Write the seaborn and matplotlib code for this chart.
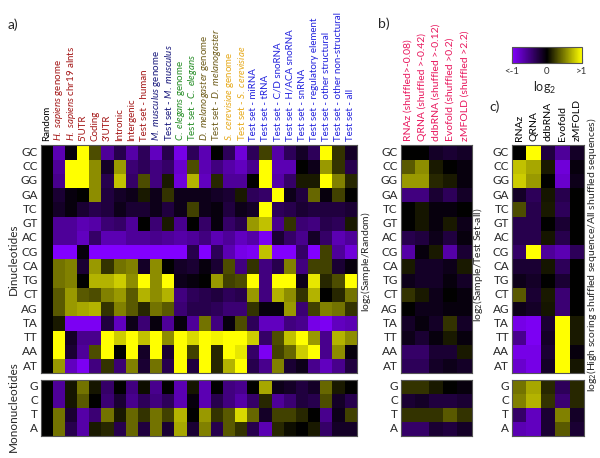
import matplotlib
matplotlib.use("Agg")
import numpy as np
import pandas as pd
import matplotlib.pyplot as plt
import seaborn as sns
from matplotlib.colors import LinearSegmentedColormap

sns.set_style("white")
plt.rcParams['font.family'] = ['Lato', 'DejaVu Sans']
plt.rcParams['mathtext.fontset'] = 'custom'
plt.rcParams['mathtext.rm'] = 'Lato'
plt.rcParams['mathtext.it'] = 'Lato:italic'

# ---- data ----
dinucs = ['GC', 'CC', 'GG', 'GA', 'TC', 'GT', 'AC', 'CG',
          'CA', 'TG', 'CT', 'AG', 'TA', 'TT', 'AA', 'AT']
monos = ['G', 'C', 'T', 'A']

samples = ['Random', r'$\mathit{H.\ sapiens}$ genome', r'$\mathit{H.\ sapiens}$ chr19 alnts',
           "5'UTR", 'Coding', "3'UTR", 'Intronic', 'Intergenic', 'Test set - human',
           r'$\mathit{M.\ musculus}$ genome', r'Test set - $\mathit{M.\ musculus}$',
           r'$\mathit{C.\ elegans}$ genome', r'Test set - $\mathit{C.\ elegans}$',
           r'$\mathit{D.\ melanogaster}$ genome', r'Test set - $\mathit{D.\ melanogaster}$',
           r'$\mathit{S.\ cerevisiae}$ genome', r'Test set - $\mathit{S.\ cerevisiae}$',
           'Test set - miRNA', 'Test set - tRNA', 'Test set - C/D snoRNA',
           'Test set - H/ACA snoRNA', 'Test set - snRNA', 'Test set - regulatory element',
           'Test set - other structural', 'Test set - other non-structural', 'Test set - all']
sample_groups = ['none'] + ['human'] * 8 + ['mouse'] * 2 + ['worm'] * 2 + ['fly'] * 2 + ['yeast'] * 2 + ['rna'] * 9
group_colors = {'none': 'black', 'human': '#a31515', 'mouse': '#16167a', 'worm': '#228b22',
                'fly': '#6e5c1a', 'yeast': '#e6a817', 'rna': '#2222dd'}

methods_b = ['RNAz (shuffled>-0.08)', 'QRNA (shuffled >-0.42)', 'ddbRNA (shuffled >-0.12)',
             'Evofold (shuffled >0.2)', 'zMFOLD (shuffled >2.2)']
methods_c = ['RNAz', 'QRNA', 'ddbRNA', 'Evofold', 'zMFOLD']

# log2(Sample/Random), clipped to [-1, 1]
random_di = [
    [0, -0.7, -0.05, 1, 0.3, -0.6, -0.3, -0.65, -0.35, -0.75, -0.3, -0.9, -0.35, -0.7, 0, -0.35, -0.85, -0.35, 0.25, -0.65, -0.35, -0.15, -0.35, 1, 0.2, -0.15],
    [0, -0.6, 1, 1, 0.55, -0.15, 0.6, -0.45, -0.35, -0.5, -0.4, -0.8, 0.3, -0.7, -0.5, -0.65, -0.75, -0.55, 1, -0.7, -0.7, 0, -0.1, 0.6, 0.2, -0.3],
    [0, -0.55, 1, 1, 0.55, -0.3, 0.75, -0.4, 0.3, -0.5, 0.1, -0.85, 0.7, -0.75, 0.15, -0.6, -0.6, 0, 1, -0.65, -0.4, 0.1, 0.1, 1, 0.5, 0.15],
    [0, -0.2, -0.05, 0, 0.55, -0.25, -0.15, -0.1, 0.1, -0.1, 0.2, -0.1, -0.1, -0.1, -0.15, -0.2, 0.1, -0.35, -0.4, 1, -0.1, -0.25, 0.4, -0.05, 0.25, 0],
    [0, -0.15, -0.05, -0.2, -0.3, -0.25, -0.1, -0.2, -0.2, -0.1, -0.25, -0.1, 0.25, -0.1, -0.05, -0.25, -0.1, -0.15, 1, -0.35, -0.3, -0.2, -0.25, -0.25, -0.25, -0.2],
    [0, -0.6, -0.6, -0.7, -0.65, -0.45, -0.4, -0.6, 0, -0.45, 0.1, -0.55, 0, -0.4, -0.05, -0.4, -0.3, 0.6, 0.75, -0.55, 0.2, -0.45, -0.5, -0.3, -0.35, 0.1],
    [0, -0.6, -0.6, -0.75, -0.4, -0.7, -0.7, -0.6, -0.6, -0.55, -0.6, -0.65, -0.6, -0.5, -0.7, -0.6, -0.75, -0.65, -0.95, -0.2, -0.4, -0.55, -0.15, -0.4, -0.7, -0.6],
    [0, -1, -1, -0.05, -1, -1, -1, -1, -1, -1, -1, -1, -0.3, -1, -0.35, -0.7, -0.9, -0.95, 0.75, -1, -1, -0.4, -1, 0.25, -0.6, -0.85],
    [0, 0.45, 0.5, -0.2, 0.6, 0.2, 0.45, 0.5, -0.15, 0.55, 0, -0.15, -0.2, -0.05, -0.2, 0.3, -0.5, 0.2, -0.5, -0.3, 0.5, -0.5, 0.25, 0.25, -0.2, -0.05],
    [0, 0.45, 0.5, 0, 0.7, 0.7, 0.8, 0.55, 1, 0.55, 1, -0.1, -0.05, 0, 0.6, 0.25, 0.3, 1, -0.5, 1, 1, -0.1, 0.9, 0.15, 0.3, 1],
    [0, 0.35, 0.6, 0.35, 0.3, 0.5, 0.6, 0.35, 0.7, 0.55, 0.7, -0.5, -0.35, -0.3, -0.25, -0.35, -0.3, 0.6, -0.5, 0.7, 0.55, 0.2, 0.7, 0, 0.15, 0.45],
    [0, 0.35, 0.6, 0.65, 0.7, 0.2, 0.5, 0.35, 0.15, 0.45, 0.35, -0.45, -0.3, -0.3, -0.35, -0.45, -0.45, 0.2, -0.05, -0.05, 0.6, -0.45, 0.25, 0.5, 0.45, 0.2],
    [0, 0.1, -0.95, -0.95, -0.95, -0.25, -0.75, -0.1, -0.45, -0.05, -0.6, -0.05, -0.6, 0.45, -0.5, -0.05, 0.3, -0.35, -0.75, -0.75, -0.5, -0.55, -0.9, -0.95, -0.75, -0.7],
    [0, 1, -0.15, -0.55, -0.55, 1, 0.8, 1, 0.75, 1, 0.55, 1, 0.85, 1, 0.95, 1, 1, 0.8, -0.4, 0.3, 0.75, 1, 0.6, -0.55, 0.7, 0.55],
    [0, 1, -0.2, -0.6, 0.3, 1, 0, 1, -0.15, 1, -0.2, 1, 0.25, 1, 0.15, 1, 0.9, -0.4, -0.95, 0.25, 0.4, 0.8, 1, -0.55, 0.55, -0.05],
    [0, 0.6, -0.75, -0.95, -0.5, 0.2, -0.45, 0.5, -0.2, 0.45, -0.3, 1, -0.25, 1, 0.15, 0.7, 1, -0.3, -0.55, 0.5, -0.2, -0.1, -0.55, -0.75, -0.55, -0.25],
]
random_mono = [
    [0, -0.6, 0.08, 0.45, 0.08, -0.4, 0, -0.5, 0.05, -0.55, 0, -0.7, 0.08, -0.7, 0, -0.5, -0.55, 0, 0.65, -0.1, -0.15, -0.25, -0.15, 0.4, 0.1, 0],
    [0, -0.6, 0.08, 0.35, 0, -0.45, -0.2, -0.55, -0.35, -0.5, -0.35, -0.7, -0.05, -0.7, -0.3, -0.5, -0.65, -0.4, 0.15, -0.6, -0.45, -0.25, -0.3, 0.3, -0.15, -0.3],
    [0, 0.45, -0.2, -0.65, -0.45, 0.45, 0.1, 0.4, 0.2, 0.45, 0.25, 0.7, 0, 0.6, 0.2, 0.35, 0.85, 0.4, -0.15, 0.25, 0.25, 0.15, 0, -0.55, -0.1, 0.25],
    [0, 0.45, -0.3, -0.65, 0.1, 0.15, -0.3, 0.4, -0.25, 0.45, -0.2, 0.65, -0.2, 0.5, -0.3, 0.35, 0.2, -0.3, -0.7, 0.15, 0.05, 0, 0.1, -0.4, -0.15, -0.15],
]

# log2(Sample/Test set-all)
testset_di = [
    [0, 0, -0.15, -0.2, -0.15],
    [0.35, 0.55, 0.1, 0, -0.05],
    [0.6, 0.6, 0.15, 0.1, -0.05],
    [-0.5, -0.5, -0.2, -0.35, -0.15],
    [0, 0.08, -0.05, -0.05, 0],
    [0, 0.08, -0.05, 0.1, -0.1],
    [-0.3, -0.25, -0.1, -0.25, -0.05],
    [-0.65, -0.05, 0.1, -0.65, -0.2],
    [0.1, -0.15, -0.15, -0.1, 0.1],
    [-0.1, -0.15, -0.15, -0.05, -0.15],
    [0.2, 0.1, -0.1, 0, -0.05],
    [0, -0.1, -0.1, -0.05, -0.05],
    [-0.15, -0.05, -0.15, 0.2, -0.15],
    [-0.1, -0.2, -0.05, 0.1, -0.05],
    [-0.4, -0.4, -0.2, -0.2, 0.1],
    [-0.35, -0.35, -0.15, -0.1, -0.15],
]
testset_mono = [
    [0.2, 0.2, 0.1, 0, -0.05],
    [-0.2, -0.15, -0.25, -0.25, -0.2],
    [0.2, 0.2, 0.2, 0.35, 0.2],
    [-0.4, -0.4, -0.2, -0.25, -0.15],
]

# log2(high scoring shuffled / all shuffled)
shuffled_di = [
    [0, 1, -0.25, -0.6, -0.15],
    [0.75, 0.65, 0.1, -0.85, -0.05],
    [0.8, 0.6, 0, -0.8, -0.1],
    [-0.15, -0.35, 0.08, -0.3, 0],
    [0.3, -0.3, 0.1, -0.35, 0],
    [-0.3, -0.3, 0, -0.2, 0],
    [-0.3, -0.3, 0.08, -0.3, 0],
    [-0.4, 1, -0.6, -0.7, -0.35],
    [-0.2, -0.2, 0.08, -0.35, 0],
    [-0.1, -0.15, 0, -0.2, 0],
    [0.35, -0.2, 0.1, -0.45, 0],
    [-0.1, -0.15, 0.08, -0.45, 0],
    [-0.9, -0.95, -0.2, 1, 0.1],
    [-0.55, -0.95, -0.15, 1, 0.1],
    [-0.9, -0.9, -0.2, 1, -0.05],
    [-0.8, -0.9, -0.15, 1, 0.08],
]
shuffled_mono = [
    [0.45, 0.65, 0.15, -0.35, 0.15],
    [0.5, 0.7, 0.2, -0.45, 0.15],
    [-0.4, -0.75, -0.2, 0.5, -0.15],
    [-0.7, -0.75, -0.2, 0.35, -0.2],
]

cmap = LinearSegmentedColormap.from_list('pby', ['#8200ff', '#000000', '#ffff00'])

W, H = 600, 458
fig = plt.figure(figsize=(W / 100, H / 100), dpi=100)


def px_axes(x0, y0, x1, y1):
    return fig.add_axes([x0 / W, 1 - y1 / H, (x1 - x0) / W, (y1 - y0) / H])


def draw(ax, values, rows, cols=None, colors=None, col_size=7):
    df = pd.DataFrame(values, index=rows)
    sns.heatmap(df, ax=ax, cmap=cmap, vmin=-1, vmax=1, cbar=False,
                xticklabels=False, yticklabels=rows)
    ax.tick_params(axis='y', length=0, labelsize=8.5, pad=2)
    plt.setp(ax.get_yticklabels(), rotation=0)
    if cols is not None:
        ax.xaxis.tick_top()
        ax.set_xticks(np.arange(len(cols)) + 0.5)
        ax.set_xticklabels(cols, rotation=90, fontsize=col_size)
        ax.tick_params(axis='x', length=0, pad=3)
        for lab, c in zip(ax.get_xticklabels(), colors):
            lab.set_color(c)
    for sp in ax.spines.values():
        sp.set_visible(True)
        sp.set_color('#555555')
        sp.set_linewidth(0.8)
    ax.set_xlabel('')
    ax.set_ylabel('')


top, mid, bot_top, bot = 145.3, 373.3, 379.5, 436

# a) all sets vs random
ax_a = px_axes(40.7, top, 356.7, mid)
draw(ax_a, random_di, dinucs, samples, [group_colors[g] for g in sample_groups])
ax_a2 = px_axes(40.7, bot_top, 356.7, bot)
draw(ax_a2, random_mono, monos)

# b) vs test set - all
ax_b = px_axes(400.7, top, 471.7, mid)
draw(ax_b, testset_di, dinucs, methods_b, ['#e8175d'] * 5, col_size=7.5)
ax_b2 = px_axes(400.7, bot_top, 471.7, bot)
draw(ax_b2, testset_mono, monos)

# c) high scoring shuffled vs all shuffled
ax_c = px_axes(512, top, 584, mid)
draw(ax_c, shuffled_di, dinucs, methods_c, ['black'] * 5, col_size=7.5)
ax_c2 = px_axes(512, bot_top, 584, bot)
draw(ax_c2, shuffled_mono, monos)

# colour bar
cax = px_axes(512, 46.7, 582, 63.3)
sm = plt.cm.ScalarMappable(cmap=cmap, norm=plt.Normalize(-1, 1))
cb = fig.colorbar(sm, cax=cax, orientation='horizontal')
cb.set_ticks([-1, 0, 1])
cb.set_ticklabels(['<-1', '0', '>1'])
cb.ax.tick_params(labelsize=7, length=3, direction='in', pad=3, colors='#333333')
cb.outline.set_edgecolor('#555555')
cb.outline.set_linewidth(0.8)
fig.text(545 / W, 1 - 88 / H, 'log$_2$', ha='center', va='center', fontsize=9)

# side labels
fig.text(13 / W, 1 - 259 / H, 'Dinucleotides', rotation=90, ha='center', va='center', fontsize=8.5)
fig.text(13 / W, 1 - 407 / H, 'Mononucleotides', rotation=90, ha='center', va='center', fontsize=8.5)
fig.text(366 / W, 1 - 262 / H, 'log$_2$(Sample/Random)', rotation=90, ha='center', va='center', fontsize=7.5)
fig.text(478 / W, 1 - 265 / H, 'log$_2$(Sample/Test Set-all)', rotation=90, ha='center', va='center', fontsize=7.5)
fig.text(592 / W, 1 - 255 / H, 'log$_2$(High scoring shuffled sequence/All shuffled sequences)',
         rotation=90, ha='center', va='center', fontsize=7.5)

fig.text(8 / W, 1 - 25 / H, 'a)', ha='left', va='center', fontsize=10)
fig.text(378 / W, 1 - 24 / H, 'b)', ha='left', va='center', fontsize=10)
fig.text(489 / W, 1 - 107 / H, 'c)', ha='left', va='center', fontsize=10)

fig.savefig('out.png', dpi=100)
